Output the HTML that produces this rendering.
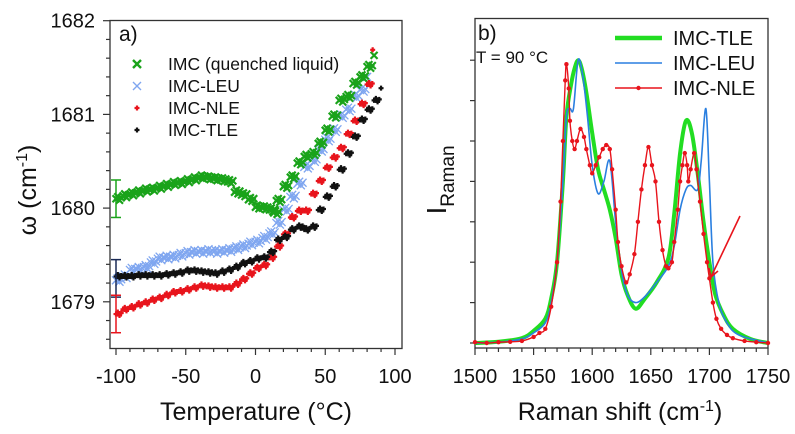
<!DOCTYPE html>
<html><head><meta charset="utf-8">
<style>
html,body{margin:0;padding:0;background:#fff;}
svg{display:block;font-family:"Liberation Sans",Arial,sans-serif;}
</style></head>
<body>
<svg id="fig" width="795" height="434" viewBox="0 0 795 434" xmlns="http://www.w3.org/2000/svg"></svg>
<script>
// ---------- Panel a data ----------
const aGreenT = [-100,-95,-90,-85,-80,-75,-70,-65,-60,-55,-50,-45,-40,-35,-30,-25,-20,-15,-10,-5,0,5,10,13,15,20,25,30,35,40,45,50,55,60,65,70,75,80,85];
const aGreenW = [1680.10,1680.13,1680.15,1680.17,1680.19,1680.20,1680.22,1680.24,1680.26,1680.27,1680.29,1680.31,1680.33,1680.32,1680.31,1680.30,1680.28,1680.17,1680.14,1680.09,1680.01,1680.00,1679.98,1679.95,1680.08,1680.23,1680.33,1680.48,1680.55,1680.58,1680.69,1680.83,1680.98,1681.15,1681.19,1681.33,1681.40,1681.51,1681.63];
const aBlueT = [-100,-95,-90,-85,-80,-75,-70,-65,-60,-55,-50,-45,-40,-35,-30,-25,-20,-15,-10,-5,0,5,10,15,20,25,30,35,40,45,50,55,60,65,70,75,80];
const aBlueW = [1679.23,1679.27,1679.34,1679.35,1679.37,1679.42,1679.46,1679.47,1679.48,1679.50,1679.52,1679.53,1679.53,1679.54,1679.53,1679.54,1679.55,1679.57,1679.59,1679.62,1679.64,1679.68,1679.73,1679.84,1679.98,1680.12,1680.26,1680.44,1680.51,1680.62,1680.73,1680.83,1680.98,1681.05,1681.19,1681.26,1681.40];
const aRedT = [-100,-95,-90,-85,-80,-75,-70,-65,-60,-55,-50,-45,-40,-35,-30,-25,-20,-15,-10,-5,0,5,10,15,20,25,30,35,40,45,50,55,60,65,70,75,80,84];
const aRedW = [1678.88,1678.93,1678.95,1678.98,1679.00,1679.03,1679.05,1679.08,1679.11,1679.12,1679.14,1679.16,1679.18,1679.17,1679.16,1679.16,1679.16,1679.20,1679.25,1679.31,1679.37,1679.40,1679.48,1679.60,1679.73,1679.91,1679.98,1679.98,1680.16,1680.30,1680.44,1680.55,1680.65,1680.80,1680.94,1681.12,1681.33,1681.70];
const aBlackT = [-100,-95,-90,-85,-80,-75,-70,-65,-60,-55,-50,-45,-40,-35,-30,-25,-20,-15,-10,-5,0,5,10,15,20,25,30,35,40,45,50,55,60,65,70,75,80,85,90];
const aBlackW = [1679.27,1679.27,1679.27,1679.28,1679.28,1679.28,1679.28,1679.29,1679.30,1679.31,1679.33,1679.33,1679.32,1679.31,1679.30,1679.32,1679.34,1679.37,1679.41,1679.43,1679.46,1679.47,1679.53,1679.66,1679.69,1679.77,1679.80,1679.77,1679.80,1679.98,1680.12,1680.23,1680.41,1680.58,1680.76,1680.94,1681.05,1681.15,1681.28];
const aErrCenters = [1680.10,1679.25,1678.87];
const aErrHalf = [0.20,0.20,0.20];
const aErrColors = ["#1aa31a","#1a2a55","#e8141c"];
const aXTicks = [-100,-50,0,50,100];
const aYTicks = [1679,1680,1681,1682];
// ---------- Panel b data ----------
const bTleX = [1500,1520,1540,1550,1560,1565,1570,1575,1578,1582,1585,1588,1591,1595,1600,1605,1610,1615,1620,1625,1630,1637,1645,1655,1665,1670,1675,1680,1685,1690,1695,1700,1705,1712,1720,1735,1750];
const bTleY = [0,0.03,0.12,0.3,0.6,1.1,2.0,4.0,5.6,6.4,6.8,7.0,6.8,6.2,5.2,4.3,3.8,3.3,2.6,1.7,1.2,0.85,1.1,1.5,2.1,3.2,4.7,5.5,5.2,4.2,3.0,2.0,1.2,0.7,0.35,0.1,0];
const bLeuX = [1500,1520,1540,1550,1560,1565,1570,1575,1578,1581,1584,1588,1592,1596,1600,1605,1610,1615,1620,1625,1630,1637,1645,1655,1665,1670,1675,1680,1684,1690,1693,1697,1700,1703,1708,1715,1725,1750];
const bLeuY = [0,0.02,0.1,0.25,0.5,1.0,2.0,4.0,5.6,5.8,5.8,7.0,6.6,5.6,4.4,3.7,4.0,4.5,3.0,1.8,1.2,1.0,1.15,1.5,1.9,2.4,3.3,3.8,3.9,3.8,4.5,5.8,4.0,2.0,1.0,0.5,0.2,0];
const bNleX = [1500,1510,1520,1530,1540,1550,1555,1560,1565,1570,1573,1575,1577,1578,1580,1581,1583,1585,1587,1590,1593,1595,1598,1600,1603,1606,1609,1612,1615,1617,1620,1622,1625,1629,1632,1636,1639,1642,1645,1648,1651,1654,1657,1660,1663,1665,1668,1670,1673,1675,1677,1679,1681,1682,1684,1687,1689,1692,1695,1698,1700,1703,1706,1710,1715,1720,1730,1740,1750];
const bNleY = [0.02,0.0,0.02,0.03,0.05,0.15,0.25,0.35,0.9,2.0,3.5,5.0,6.5,6.9,6.3,5.5,5.0,4.8,5.0,5.3,5.1,4.8,4.4,4.2,4.4,4.6,4.8,4.9,4.8,4.3,3.3,2.5,1.9,1.5,1.7,2.2,3.0,3.8,4.4,4.85,4.4,4.0,3.0,2.3,1.9,1.85,2.0,2.5,3.3,4.0,4.4,4.7,4.4,4.0,4.3,4.7,4.3,3.5,2.7,2.0,1.6,1.0,0.6,0.35,0.2,0.12,0.05,0.02,0.0];
const bXTicks = [1500,1550,1600,1650,1700,1750];
const bYTicks = [0,1,2,3,4,5,6,7];

const NS = "http://www.w3.org/2000/svg";
const svg = document.getElementById('fig');
function mk(tag, attrs, parent){ const e=document.createElementNS(NS,tag); for(const k in attrs) e.setAttribute(k,attrs[k]); (parent||svg).appendChild(e); return e; }

const ax = t => 116 + (t + 100) * 1.395;
const ay = w => 20.7 + (1682 - w) * 93.7;
const bx = s => 475 + (s - 1500) * 1.172;
const by = v => 343 - v * 40.4;

// ---------- Panel a ----------
const ga = mk('g', {});


const frameA = mk('rect', {x:110, y:20.5, width:292, height:328, fill:'none', stroke:'#333', 'stroke-width':1.3}, ga);


for (let t=-100; t<=100; t+=10){
  const major = t%50===0;
  const tk = mk('line', {x1:ax(t), x2:ax(t), y1:348, y2:348+(major?7:4), stroke:'#333','stroke-width':1.2}, ga);
  
  
}
aXTicks.forEach(t=>{
  const tx = mk('text', {x:ax(t), y:383, 'font-size':20, 'text-anchor':'middle', fill:'#111'}, ga);
  tx.textContent = String(t);
  
  
});
for (let i=0;i<=17;i++){
  const w = 1678.6 + i*0.2;
  if (ay(w) < 20 || ay(w) > 348) continue;
  const major = Math.abs(w - Math.round(w)) < 1e-6;
  const tk = mk('line', {x1:110-(major?7:4), x2:110, y1:ay(w), y2:ay(w), stroke:'#333','stroke-width':1.2}, ga);
  
  
}
aYTicks.forEach(w=>{
  const tx = mk('text', {x:95, y:ay(w)+7, 'font-size':20, 'text-anchor':'end', fill:'#111'}, ga);
  tx.textContent = w;
  
  
});
const xtA = mk('text', {x:256, y:420, 'font-size':25, 'text-anchor':'middle', fill:'#111'}, ga);
xtA.textContent = 'Temperature (°C)';


const ytA = mk('text', {x:0, y:0, 'font-size':25, 'text-anchor':'middle', fill:'#111', transform:'translate(36,190) rotate(-90)'}, ga);
ytA.innerHTML = 'ω (cm<tspan dy="-9" font-size="16">-1</tspan><tspan dy="9">)</tspan>';


const la = mk('text', {x:119, y:41, 'font-size':21, fill:'#111'}, ga);
la.textContent = 'a)';



function xMark(g, x, y, s, color, w){
  mk('path', {d:`M${x-s},${y-s}L${x+s},${y+s}M${x-s},${y+s}L${x+s},${y-s}`, stroke:color, 'stroke-width':w, fill:'none'}, g);
}
function plusMark(g, x, y, s, color, w){
  mk('path', {d:`M${x-s},${y}L${x+s},${y}M${x},${y-s}L${x},${y+s}`, stroke:color, 'stroke-width':w, fill:'none'}, g);
}
// each reading drawn as a small cluster of glyphs (dense acquisition look)
const clusterDX = [0, 1.8, 3.5, 5.2];
const clusterDY = [0, -2, 1.5, -1];
function series(name, T, W, draw){
  const g = mk('g', {}, ga);
  
  
  T.forEach((t,i)=>{
    const last = i === T.length-1;
    clusterDX.forEach((dx,k)=>{ if (last && k>0) return; draw(g, ax(t)+dx, ay(W[i])+clusterDY[k]); });
  });
}
series('series-imc-leu', aBlueT, aBlueW, (g,x,y)=>xMark(g,x,y,4,'#7fa6f0',1.3));
series('series-imc-quenched', aGreenT, aGreenW, (g,x,y)=>xMark(g,x,y,3.5,'#1aa31a',2.2));
series('series-imc-nle', aRedT, aRedW, (g,x,y)=>plusMark(g,x,y+1,2.5,'#e8141c',2.2));
series('series-imc-tle', aBlackT, aBlackW, (g,x,y)=>plusMark(g,x,y*0+y,2.5,'#111',2.2));
aErrCenters.forEach((c,i)=>{
  const g = mk('g', {stroke:aErrColors[i], 'stroke-width':1.5}, ga);
  
  
  const x = ax(-100), y1 = ay(c+aErrHalf[i]), y2 = ay(c-aErrHalf[i]);
  mk('line', {x1:x, x2:x, y1:y1, y2:y2}, g);
  mk('line', {x1:x-5, x2:x+5, y1:y1, y2:y1}, g);
  mk('line', {x1:x-5, x2:x+5, y1:y2, y2:y2}, g);
});
const legA = [['IMC (quenched liquid)','#1aa31a','x'],['IMC-LEU','#7fa6f0','x'],['IMC-NLE','#e8141c','+'],['IMC-TLE','#111','+']];
legA.forEach((L,i)=>{
  const g = mk('g', {}, ga);
  
  
  const y = 64 + i*22;
  if (L[2]==='x') xMark(g,137,y,4, L[1], L[1]==='#1aa31a'?2.4:1.4); else plusMark(g,137,y,2.5,L[1],2.2);
  const t = mk('text', {x:168, y:y+6, 'font-size':17.5, fill:'#111'}, g);
  t.textContent = L[0];
});

// ---------- Panel b ----------
const gb = mk('g', {});


const frameB = mk('rect', {x:475, y:18.5, width:293, height:329.5, fill:'none', stroke:'#333', 'stroke-width':1.3}, gb);


for (let s=1500; s<=1750; s+=10){
  const major = s%50===0;
  const tk = mk('line', {x1:bx(s), x2:bx(s), y1:348, y2:348+(major?7:4), stroke:'#333','stroke-width':1.2}, gb);
  
  
}
bXTicks.forEach(s=>{
  const tx = mk('text', {x:bx(s), y:383, 'font-size':20, 'text-anchor':'middle', fill:'#111'}, gb);
  tx.textContent = s;
  
  
});
bYTicks.forEach(v=>{
  const tk = mk('line', {x1:470, x2:475, y1:by(v), y2:by(v), stroke:'#333','stroke-width':1.2}, gb);
  
  
});
const xtB = mk('text', {x:620, y:420, 'font-size':25, 'text-anchor':'middle', fill:'#111'}, gb);
xtB.innerHTML = 'Raman shift (cm<tspan dy="-9" font-size="16">-1</tspan><tspan dy="9">)</tspan>';


const ytB = mk('text', {x:0, y:0, 'font-size':28, 'text-anchor':'middle', fill:'#111', transform:'translate(446,180) rotate(-90)'}, gb);
ytB.innerHTML = 'I<tspan dy="8" font-size="19">Raman</tspan>';


const lb = mk('text', {x:478, y:40, 'font-size':21, fill:'#111'}, gb);
lb.textContent = 'b)';


const tt = mk('text', {x:476, y:63, 'font-size':17, fill:'#111'}, gb);
tt.textContent = 'T = 90 °C';



function smoothPath(X, Y){
  const P = X.map((x,i)=>[bx(x), by(Y[i])]);
  let d = `M${P[0][0]},${P[0][1]}`;
  for (let i=0;i<P.length-1;i++){
    const p0=P[Math.max(0,i-1)], p1=P[i], p2=P[i+1], p3=P[Math.min(P.length-1,i+2)];
    const c1=[p1[0]+(p2[0]-p0[0])/6, p1[1]+(p2[1]-p0[1])/6];
    const c2=[p2[0]-(p3[0]-p1[0])/6, p2[1]-(p3[1]-p1[1])/6];
    d += `C${c1[0]},${c1[1]} ${c2[0]},${c2[1]} ${p2[0]},${p2[1]}`;
  }
  return d;
}
const lt = mk('path', {d:smoothPath(bTleX,bTleY), fill:'none', stroke:'#22dd22', 'stroke-width':4}, gb);


const ll = mk('path', {d:smoothPath(bLeuX,bLeuY), fill:'none', stroke:'#2a7fe0', 'stroke-width':1.6}, gb);


const ln = mk('path', {d:smoothPath(bNleX,bNleY), fill:'none', stroke:'#e8141c', 'stroke-width':1.4}, gb);


const gm = mk('g', {fill:'#e8141c'}, gb);


bNleX.forEach((x,i)=>{ mk('circle', {cx:bx(x), cy:by(bNleY[i]), r:2.2}, gm); });
const ar = mk('g', {stroke:'#e8141c', 'stroke-width':1.6, fill:'none'}, gb);


mk('line', {x1:740, y1:216, x2:711, y2:277}, ar);
mk('path', {d:'M709,268 L711,277 L718,271'}, ar);
const legB = [['IMC-TLE','#22dd22',4.5],['IMC-LEU','#2a7fe0',1.6],['IMC-NLE','#e8141c',1.4]];
legB.forEach((L,i)=>{
  const g = mk('g', {}, gb);
  
  
  const y = 38 + i*25;
  mk('line', {x1:615, x2:662, y1:y, y2:y, stroke:L[1], 'stroke-width':L[2]}, g);
  if (i===2) mk('circle', {cx:638.5, cy:y, r:2.2, fill:L[1]}, g);
  const t = mk('text', {x:673, y:y+7, 'font-size':20, fill:'#111'}, g);
  t.textContent = L[0];
});
</script>
</body></html>
